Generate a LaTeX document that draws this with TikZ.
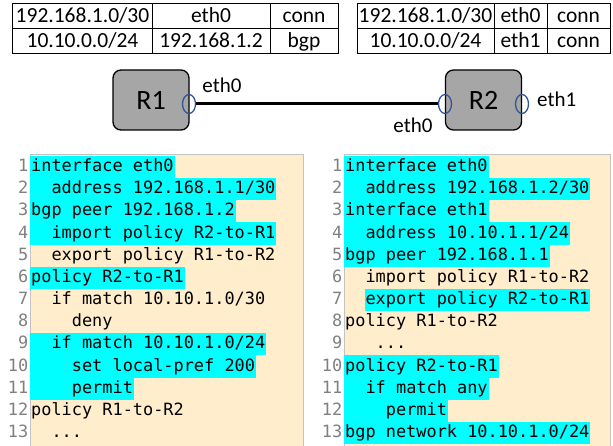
\documentclass[tikz,border=0pt]{standalone}
\usepackage{fontspec}
\setmainfont{Carlito}
\newfontfamily\codefont{DejaVu Sans Mono}
\usetikzlibrary{shapes.geometric}
\definecolor{routergray}{RGB}{166,166,166}
\definecolor{portblue}{RGB}{47,85,151}
\definecolor{codebg}{RGB}{255,237,204}
\definecolor{hlcyan}{RGB}{0,255,255}
\definecolor{numgray}{RGB}{128,128,128}
\definecolor{panelgray}{RGB}{195,195,195}

\begin{document}
\begin{tikzpicture}[x=1bp,y=-1bp,
  cell/.style={draw, line width=1bp, inner sep=0pt, minimum height=25bp, text height=15bp, text depth=3bp, font=\fontsize{21.5bp}{25bp}\selectfont},
  router/.style={draw, fill=routergray, line width=1.3bp, rounded corners=8bp, minimum width=76bp, minimum height=60bp, inner sep=0pt, font=\fontsize{28bp}{31bp}\selectfont},
  port/.style={ellipse, draw=portblue, line width=1.3bp, minimum width=13bp, minimum height=19bp, inner sep=0pt},
  link/.style={line width=3bp},
  iflabel/.style={inner sep=0pt, text height=15bp, text depth=3bp, font=\fontsize{21bp}{25bp}\selectfont},
  panel/.style={fill=codebg, draw=panelgray, line width=0.8bp, anchor=north west, minimum height=296bp, inner sep=0pt},
  code/.style={anchor=west, inner xsep=1bp, inner ysep=0pt, minimum height=22.17bp, text height=12.5bp, text depth=3.5bp, font=\codefont\fontsize{16.9bp}{20bp}\selectfont},
  hl/.style={code, fill=hlcyan},
  lnum/.style={anchor=east, inner sep=0pt, text=numgray, text height=12.5bp, text depth=3.5bp, font=\codefont\fontsize{16.9bp}{20bp}\selectfont}]
\useasboundingbox (0,0) rectangle (613,446);

\node[cell, minimum width=139bp] (a11) at (82.5,16.5) {192.168.1.0/30};
\node[cell, minimum width=118bp] (a12) at (211,16.5) {eth0};
\node[cell, minimum width=68bp] (a13) at (304,16.5) {conn};
\node[cell, minimum width=139bp] (a21) at (82.5,41.5) {10.10.0.0/24};
\node[cell, minimum width=118bp] (a22) at (211,41.5) {192.168.1.2};
\node[cell, minimum width=68bp] (a23) at (304,41.5) {bgp};
\node[cell, minimum width=137bp] (b11) at (425.5,16.5) {192.168.1.0/30};
\node[cell, minimum width=53bp] (b12) at (520.5,16.5) {eth0};
\node[cell, minimum width=63bp] (b13) at (578.5,16.5) {conn};
\node[cell, minimum width=137bp] (b21) at (425.5,41.5) {10.10.0.0/24};
\node[cell, minimum width=53bp] (b22) at (520.5,41.5) {eth1};
\node[cell, minimum width=63bp] (b23) at (578.5,41.5) {conn};

\node[router] (R1) at (151,100) {R1};
\node[router] (R2) at (483.5,100) {R2};
\node[port] (p1) at (189,104) {};
\node[port] (p2) at (445,104) {};
\node[port] (p3) at (522,104) {};
\draw[link] (p1) -- (p2);
\node[iflabel] (e1) at (222,87) {eth0};
\node[iflabel] (e2) at (413,127) {eth0};
\node[iflabel, anchor=west] (e3) at (537,101) {eth1};

\node[panel, minimum width=273bp] (cfgA) at (30,154) {};
\node[panel, minimum width=266bp] (cfgB) at (344,154) {};

\node[hl] (a1) at (30,167) {interface eth0};
\node[hl] (a2) at (30,189.17) {\phantom{xx}address 192.168.1.1/30};
\node[hl] (a3) at (30,211.34) {bgp peer 192.168.1.2};
\node[hl] (a4) at (30,233.51) {\phantom{xx}import policy R2-to-R1};
\node[code] (a5) at (30,255.68) {\phantom{xx}export policy R1-to-R2};
\node[hl] (a6) at (30,277.85) {policy R2-to-R1};
\node[code] (a7) at (30,300.02) {\phantom{xx}if match 10.10.1.0/30};
\node[code] (a8) at (30,322.19) {\phantom{xxxx}deny};
\node[hl] (a9) at (30,344.36) {\phantom{xx}if match 10.10.1.0/24};
\node[hl] (a10) at (30,366.53) {\phantom{xxxx}set local-pref 200};
\node[hl] (a11) at (30,388.7) {\phantom{xxxx}permit};
\node[code] (a12) at (30,410.87) {policy R1-to-R2};
\node[code] (a13) at (30,433.04) {\phantom{xx}...};

\node[hl] (b1) at (344,167) {interface eth0};
\node[hl] (b2) at (344,189.17) {\phantom{xx}address 192.168.1.2/30};
\node[hl] (b3) at (344,211.34) {interface eth1};
\node[hl] (b4) at (344,233.51) {\phantom{xx}address 10.10.1.1/24};
\node[hl] (b5) at (344,255.68) {bgp peer 192.168.1.1};
\node[code] (b6) at (344,277.85) {\phantom{xx}import policy R1-to-R2};
\node[hl] (b7) at (364.35,300.02) {export policy R2-to-R1};
\node[code] (b8) at (344,322.19) {policy R1-to-R2};
\node[code] (b9) at (344,344.36) {\phantom{xxx}...};
\node[hl] (b10) at (344,366.53) {policy R2-to-R1};
\node[hl] (b11) at (344,388.7) {\phantom{xx}if match any};
\node[hl] (b12) at (344,410.87) {\phantom{xxxx}permit};
\node[hl] (b13) at (344,433.04) {bgp network 10.10.1.0/24};

\node[lnum] (na1) at (28.5,167) {1};
\node[lnum] (na2) at (28.5,189.17) {2};
\node[lnum] (na3) at (28.5,211.34) {3};
\node[lnum] (na4) at (28.5,233.51) {4};
\node[lnum] (na5) at (28.5,255.68) {5};
\node[lnum] (na6) at (28.5,277.85) {6};
\node[lnum] (na7) at (28.5,300.02) {7};
\node[lnum] (na8) at (28.5,322.19) {8};
\node[lnum] (na9) at (28.5,344.36) {9};
\node[lnum] (na10) at (28.5,366.53) {10};
\node[lnum] (na11) at (28.5,388.7) {11};
\node[lnum] (na12) at (28.5,410.87) {12};
\node[lnum] (na13) at (28.5,433.04) {13};
\node[lnum] (nb1) at (342.5,167) {1};
\node[lnum] (nb2) at (342.5,189.17) {2};
\node[lnum] (nb3) at (342.5,211.34) {3};
\node[lnum] (nb4) at (342.5,233.51) {4};
\node[lnum] (nb5) at (342.5,255.68) {5};
\node[lnum] (nb6) at (342.5,277.85) {6};
\node[lnum] (nb7) at (342.5,300.02) {7};
\node[lnum] (nb8) at (342.5,322.19) {8};
\node[lnum] (nb9) at (342.5,344.36) {9};
\node[lnum] (nb10) at (342.5,366.53) {10};
\node[lnum] (nb11) at (342.5,388.7) {11};
\node[lnum] (nb12) at (342.5,410.87) {12};
\node[lnum] (nb13) at (342.5,433.04) {13};
\end{tikzpicture}
\end{document}
